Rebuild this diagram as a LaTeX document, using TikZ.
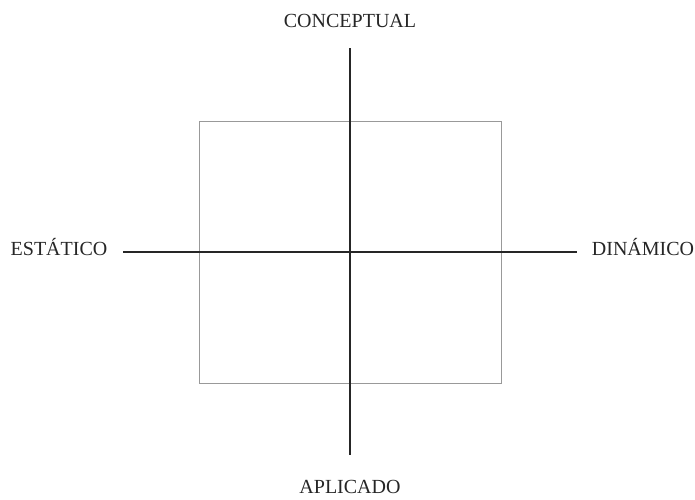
\documentclass[tikz,border=0pt]{standalone}
\usepackage{fontspec}
\setmainfont{Liberation Serif}
\begin{document}
\begin{tikzpicture}[x=1pt,y=-1pt,
  axis/.style={draw=black!85,line width=1.4pt},
  quad/.style={draw=black!40,line width=1pt},
  lbl/.style={font=\fontsize{20}{23}\selectfont,text=black!85,inner sep=0pt}]
\useasboundingbox (0,0) rectangle (695,499);
\draw[quad] (199,121) rectangle (501,383);
\coordinate (t) at (350,48);
\coordinate (b) at (350,455);
\coordinate (l) at (123,252);
\coordinate (r) at (577,252);
\draw[axis] (t) -- (b);
\draw[axis] (l) -- (r);
\node[lbl] (c) at (350,21) {CONCEPTUAL};
\node[lbl] (e) at (59,247) {ESTÁTICO};
\node[lbl] (d) at (643,247) {DINÁMICO};
\node[lbl] (a) at (350,487) {APLICADO};
\end{tikzpicture}
\end{document}
